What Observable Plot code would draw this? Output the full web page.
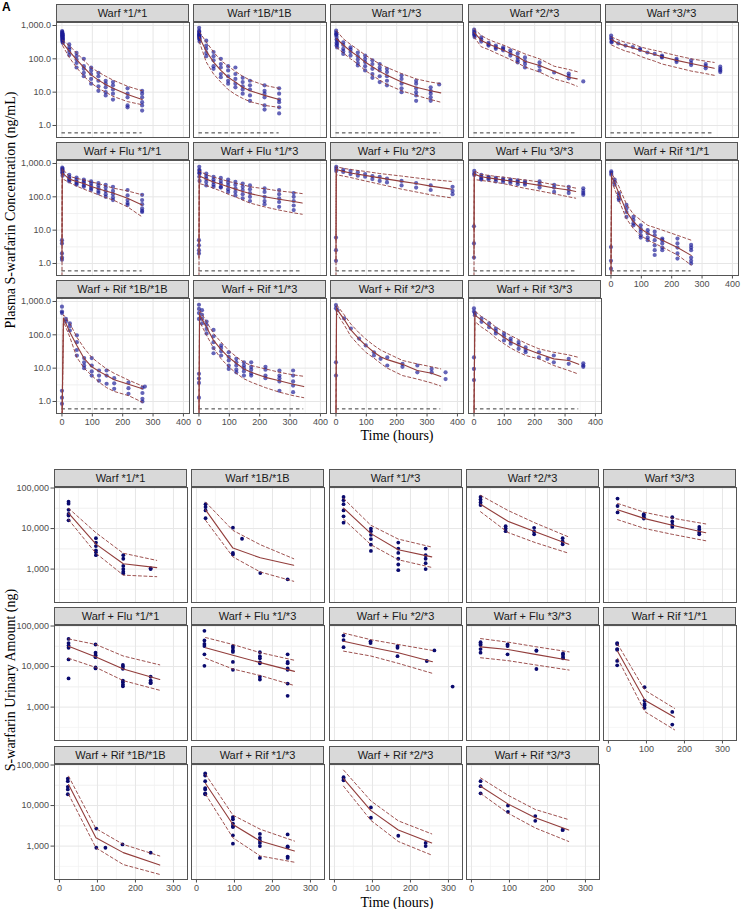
<!DOCTYPE html>
<html><head><meta charset="utf-8">
<script src="https://cdn.jsdelivr.net/npm/d3@7"></script>
<script src="https://cdn.jsdelivr.net/npm/@observablehq/plot@0.6"></script>
<style>
body{margin:0;background:#fff;}
#root{position:relative;width:744px;height:909px;overflow:hidden;background:#fff;font-family:"Liberation Sans",Arial,sans-serif;}
.strip{position:absolute;box-sizing:border-box;border:1px solid #555;background:#d9d9d9;color:#1a1a1a;font-size:11px;font-weight:400;text-align:center;line-height:16px;white-space:nowrap;}
.ttl{position:absolute;font-family:"Liberation Serif","Times New Roman",serif;font-size:14px;color:#000;white-space:nowrap;}
.fw{position:absolute;overflow:visible;}
</style></head><body><div id="root"></div>
<script>
// ---------------- DATA ----------------
const facets = ["Warf *1/*1","Warf *1B/*1B","Warf *1/*3","Warf *2/*3","Warf *3/*3",
  "Warf + Flu *1/*1","Warf + Flu *1/*3","Warf + Flu *2/*3","Warf + Flu *3/*3","Warf + Rif *1/*1",
  "Warf + Rif *1B/*1B","Warf + Rif *1/*3","Warf + Rif *2/*3","Warf + Rif *3/*3"];

// Panel A: plasma predictions, rows [time, p5, median, p95]
const plasmaPred = {
"Warf *1/*1":[[2,250,300,360],[24,110,170,250],[48,55,95,150],[72,30,55,90],[96,19,33,55],[120,13,23,40],[144,10,17,30],[168,7.5,13,23],[216,5.2,8.5,15],[264,4.2,6,11]],
"Warf *1B/*1B":[[1,330,450,650],[24,80,170,320],[48,35,80,160],[72,20,45,90],[96,12,28,60],[120,8.5,20,42],[144,6.5,14,30],[168,5.2,11,23],[216,4,8,16],[264,3.5,6,13]],
"Warf *1/*3":[[2,220,400,700],[24,150,260,400],[48,100,170,270],[72,70,120,190],[96,45,80,130],[120,32,58,95],[144,23,42,70],[168,17,32,55],[216,11,20,36],[264,8,14,25],[312,6,11,20],[345,5,9.5,18]],
"Warf *2/*3":[[0.5,450,620,800],[24,230,355,500],[48,190,280,380],[72,150,225,310],[96,120,185,260],[120,95,145,210],[144,75,115,175],[168,57,85,140],[216,40,63,100],[264,25,42,60],[312,19,28,48],[340,15,25,41]],
"Warf *3/*3":[[2,260,380,450],[24,210,290,370],[48,170,245,310],[72,150,215,280],[96,120,180,230],[120,100,155,200],[144,85,135,180],[168,70,115,160],[216,55,90,125],[264,43,72,100],[312,36,59,85],[340,32,52,78]],
"Warf + Flu *1/*1":[[0,0.2,1.2,4],[1,350,520,700],[24,270,340,410],[48,210,290,360],[72,170,250,320],[96,140,205,280],[120,115,175,250],[144,95,150,215],[168,81,130,183],[216,50,90,150],[264,25,57,115]],
"Warf + Flu *1/*3":[[0,0.2,1.5,4],[1,250,420,600],[24,220,340,460],[48,180,280,390],[72,150,240,340],[96,120,200,290],[120,100,170,260],[144,80,145,230],[168,65,125,200],[216,50,100,175],[264,40,85,150],[312,33,72,135],[340,30,65,125]],
"Warf + Flu *2/*3":[[0,0.2,1.2,5],[1,460,660,800],[24,420,580,720],[48,380,520,660],[96,300,440,580],[144,240,370,500],[216,170,290,420],[264,140,250,370],[312,115,210,330],[380,93,170,290]],
"Warf + Flu *3/*3":[[0,0.2,1.5,10],[1,330,480,600],[24,310,400,470],[48,290,370,440],[72,270,345,410],[96,250,320,390],[120,225,300,365],[144,200,280,340],[168,180,260,320],[216,150,220,280],[264,123,183,230],[312,100,160,200],[335,91,145,183]],
"Warf + Rif *1/*1":[[0,0.1,0.5,1],[2,300,410,520],[26,80,130,205],[51,22,36,60],[74,11,18,30],[98,7,11,20],[121,5,8,14],[144,4,6.3,12],[169,3.1,5,10],[219,1.8,3,7],[264,0.9,1.75,5]],
"Warf + Rif *1B/*1B":[[0,0.1,0.2,0.4],[5,250,320,400],[26,85,120,220],[49,21,48,85],[73,10,19.5,40],[98,6,11,21],[122,3.8,8,14],[147,2.6,6,9.5],[172,2,4.5,7],[219,1.5,3.3,4.4],[265,0.95,2.4,2.9]],
"Warf + Rif *1/*3":[[0,0.1,0.3,0.6],[2,250,390,550],[25,97,170,245],[48,40,68,110],[73,19,36,60],[98,11,21,34],[123,7,14,22],[148,4.8,9.5,15],[172,3.8,7.5,12],[219,2.6,5.3,9.5],[265,1.9,4.2,7.5],[310,1.5,3.3,6.3],[345,1.3,2.8,5.7]],
"Warf + Rif *2/*3":[[0,0.1,0.3,0.6],[2,450,600,800],[27,200,290,400],[49,90,140,210],[76,48,75,115],[98,30,48,75],[125,20,30,48],[147,14,22,35],[169,10,18,28],[219,6,13,17],[268,4.7,8.5,13.4],[315,3.6,7,11],[345,2.9,5.6,9.5]],
"Warf + Rif *3/*3":[[0,0.1,0.3,0.6],[3,250,390,520],[25,170,275,350],[50,120,180,250],[72,80,125,170],[99,54,85,122],[121,40,62,95],[147,30,48,72],[170,24,38,56],[214,19,27,38],[263,12,19,30],[312,8.5,17,25],[345,6.6,13,21]]
};

// Panel A: observed plasma concentrations, rows [time, values...]
const plasmaObs = {
"Warf *1/*1":[[0.5,680,600,520,450],[1,640,560,480,400,350],[2,580,500,430,380,320],[3,520,450,400,350,300],[24,270,220,190,160,130],[48,150,120,95,75,55],[72,100,60,50,38,30],[96,55,45,35,25,18],[120,38,30,22,15,11],[144,22,18,14,10,8],[168,20,16,12,9,6],[216,13,9,7,4,3.5],[264,11,9,7,5,4,2.8]],
"Warf *1B/*1B":[[0.5,850,700,600,520,450],[1,650,550,480,400],[2,500,430,380,330],[24,350,250,200,150,120],[48,160,120,90,60,50],[72,100,70,55,35,28],[96,60,45,30,22,18],[120,55,35,25,18,14],[144,27,20,15,12,9],[168,22,16,12,8,5.5],[216,16,11,9,7,4,3],[264,13,9,6,5,3.5,2.3]],
"Warf *1/*3":[[0.5,700,600,520],[2,550,450,380,300,250],[4,350,280,220],[24,310,260,200,170,140],[48,220,190,160,125],[72,155,120,95,75,63],[96,125,100,80,60,45],[120,90,70,50,35,27],[144,70,55,45,30,20],[168,50,40,30,22,16],[216,32,25,18,13,10],[264,22,18,13,10,8,5.5],[312,14,11,9,7,5.5],[340,17]],
"Warf *2/*3":[[0.5,750,650,550],[2,600,500,450],[24,440,380,330],[48,300,270,250],[72,250,220,200],[96,220,200,180],[120,180,150,125],[144,145,110,90,78],[168,110,85,70,55],[216,78,60,45],[264,39],[312,36,31,26],[360,21]],
"Warf *3/*3":[[0.5,500,420],[2,380,330,310],[24,290],[48,250],[72,225],[96,200,185],[120,155],[144,140],[168,125,115,110],[216,100,90,80],[264,90,75,65],[312,70,60,52],[360,58,50,45,40]],
"Warf + Flu *1/*1":[[0,5,4,2,1.5,1.3],[1,750,650,550],[2,700,600,500,430],[24,460,400,350,320,290],[48,380,330,280,250,230],[72,330,290,260,220,200],[96,290,250,210,180,160],[120,260,220,180,150,130],[144,230,190,150,120,100],[168,200,150,120,95,80],[216,160,110,80,65,57],[264,115,80,60,45,38,35]],
"Warf + Flu *1/*3":[[0,5,3.5,2.5,2],[1,800,650,520,400],[2,600,500,300],[24,500,420,350,280,220],[48,400,330,280,230,200],[72,370,300,250,200,190],[96,330,270,220,170,140],[120,280,230,180,140,110],[144,250,200,160,120,90],[168,220,170,130,100,75],[216,180,140,100,75,60],[264,160,120,90,70,50],[312,130,100,75,55,40]],
"Warf + Flu *2/*3":[[0,6,2.5,1.2],[1,800,700,600],[24,650,560],[48,600,480],[72,550,430],[96,480,400],[120,420,340],[144,400,300],[168,350,270],[216,300,220],[264,260,190],[312,220,160],[384,200,150,120]],
"Warf + Flu *3/*3":[[0,13,4,1.5],[1,600,500,450],[24,460,400,350,330],[48,400,370,330],[72,370,340,290],[96,350,320,280],[120,330,300,260],[144,310,280,240],[168,290,260,230],[216,290,240,190],[264,230,190,140],[312,200,160,130],[360,180,150,130,115]],
"Warf + Rif *1/*1":[[0,3.1,1.2,0.7],[1,580,520,460],[12,330,280,230],[26,130,110,90,80],[51,57,45,35,25],[74,25,20,16,14],[98,14,11,9,7,6],[121,10,8,6,5],[144,9,7,5,3.5,2.5,1.8],[169,5.6,5,4,3,2.5],[219,5.6,4,3,2,1.4],[264,3.6,3,2.5,1.5,1.2,1.0]],
"Warf + Rif *1B/*1B":[[0,700,500,450,2.1,1.3,0.85],[13,300,250],[26,220,180,135],[49,97,60,35,24],[73,20,15,12,10],[98,20,12,8,6],[122,8.5,6,4.2],[147,8.5,6,3.4],[172,5,3.5,2.4],[219,3.7,2.5,1.7],[265,2.6,1.8,1.2,1.0],[273,2.8]],
"Warf + Rif *1/*3":[[0,800,600,450,300,6.8,4.9,3.6,1.3],[10,550,400,300,220],[25,250,200,150,110],[48,140,90,60,40,28],[73,48,40,32,24],[98,30,22,17,12,9.5],[123,19,15,12,9,7.5],[148,15,12,10,8,6],[172,15,11,9,7,6],[219,11,9,6,5],[265,8.5,6,5,4,2.1],[310,8.5,6,4,3,1.9]],
"Warf + Rif *2/*3":[[0,780,630,15,6],[5,550],[27,310],[49,155],[76,77],[98,48],[125,30,24],[147,19],[169,21,12],[219,13.5,11],[268,12,7.5],[315,9.5,7.5],[361,7.5,4.7]],
"Warf + Rif *3/*3":[[0,620,500,21,9.5,4.4],[3,450,390],[25,310,245],[50,220,170],[72,155,130,110],[99,110,90,68],[121,77,65,54],[147,61,50,38],[170,42,35,30],[214,30,21],[242,19],[263,24,15],[312,19,13.5],[360,14,12,11]]
};
const lloq = 0.6;

// Panel B: urinary amount predictions, rows [time, p5, median, p95]
const urinePred = {
"Warf *1/*1":[[24,16600,24000,31600],[96,2460,4130,7900],[168,710,1360,2460],[256,650,1090,1640]],
"Warf *1B/*1B":[[24,16000,29000,45000],[96,2000,3300,9000],[168,850,1900,4000],[256,500,1250,1800]],
"Warf *1/*3":[[24,17000,32000,55000],[96,4000,7500,12000],[168,1700,3000,5500],[256,1100,2000,3500]],
"Warf *2/*3":[[24,26000,39600,66000],[96,8000,15100,28000],[168,4500,8300,13700],[256,2460,4100,6200]],
"Warf *3/*3":[[24,16600,29000,41700],[96,10000,17600,25000],[168,7200,12100,18100],[256,5000,7900,13000]],
"Warf + Flu *1/*1":[[24,16000,31800,48000],[96,9500,17200,35000],[168,4500,8700,18200],[264,2600,4800,11000]],
"Warf + Flu *1/*3":[[24,16000,29000,52000],[96,8700,19000,35000],[168,6000,12500,22000],[258,3400,7600,14300]],
"Warf + Flu *2/*3":[[24,24000,42000,67000],[96,18200,30000,46000],[168,12000,22000,35000],[258,6800,13200,25000]],
"Warf + Flu *3/*3":[[24,16500,30600,49000],[96,14000,26400,40000],[168,11000,20000,31000],[257,8200,14300,23000]],
"Warf + Rif *1/*1":[[24,16000,24000,36000],[96,770,1480,2600],[174,275,560,930]],
"Warf + Rif *1B/*1B":[[24,19000,33000,53000],[96,910,1600,2700],[168,350,690,1100],[264,200,340,570]],
"Warf + Rif *1/*3":[[24,19000,35000,59000],[96,1600,3400,5800],[168,570,1330,2600],[258,400,760,1330]],
"Warf + Rif *2/*3":[[24,30000,46000,75000],[96,4300,7500,13000],[168,1300,2500,4200],[256,600,1200,2000]],
"Warf + Rif *3/*3":[[24,20000,30000,48000],[96,6500,11000,18000],[168,2800,5000,8000],[256,1300,2500,4500]]
};

// Panel B: observed urinary amounts, rows [time, values...]
const urineObs = {
"Warf *1/*1":[[24,46000,41000,29000,23000,21000,16000],[96,5800,4500,3700,2900,2600,2200],[168,2200,1800,1200,1000,860,780],[240,1050,1000]],
"Warf *1B/*1B":[[24,40000,34000,28000,18000],[96,10500,2500,2300],[120,5600],[168,800],[240,560]],
"Warf *1/*3":[[24,60000,50000,40000,28000,20000,14000],[96,10000,8600,7000,5500,4000,2800],[168,4500,3200,2500,1800,1300,940],[240,3200,2200,1800,1400,1000]],
"Warf *2/*3":[[24,60000,52000,44000,38000],[90,11400,10000,8600],[165,10400,8500,7200],[240,5800,4800,4100]],
"Warf *3/*3":[[24,55000,36000,25000],[93,22600,21000,19000,17600],[168,19000,15000,12500,11000],[239,11000,9500,8000,7200]],
"Warf + Flu *1/*1":[[24,48000,38000,33000,29000,15000,5100],[95,35000,22000,19000,17000,9500,9000],[167,11000,10000,8800,4500,4100,3600,3250],[240,5600,4500,4100,3900]],
"Warf + Flu *1/*3":[[21,76000,44000,36000,32000,20000,10400],[96,32000,29000,25000,23000,13000,8300],[167,22700,18000,16000,12700,12000,5600,4800],[240,20000,13000,12000,9000,8300,3800,1900]],
"Warf + Flu *2/*3":[[24,58000,45000,30000],[95,42000,38000],[166,32000,29000,18000],[243,13700],[263,25000],[311,3200]],
"Warf + Flu *3/*3":[[24,40000,36000,34000,27000,22000],[95,35000,32000,20000],[171,25000,24500,8700],[241,21000,19500,17200,16000]],
"Warf + Rif *1/*1":[[23,38000,36000,27000,26000,13800,10700],[95,3100,1450,1200,1100,960],[168,760,370]],
"Warf + Rif *1B/*1B":[[22,46000,40000,29000,25000,19000],[97,2700,910],[121,910],[166,1100],[240,690]],
"Warf + Rif *1/*3":[[23,62000,55000,40000,27000,25000,20000,19000],[96,5200,4600,3600,3100,2950,1840,1150],[167,2000,1600,1380,1200,1000,510],[240,1940,990,940,550,510]],
"Warf + Rif *2/*3":[[24,50000,45000,42000],[96,9000,5000],[168,1800],[240,1200,1000]],
"Warf + Rif *3/*3":[[24,40000,30000,20000],[96,10000,7000],[168,5500,4200],[240,2500,2500]]
};

// axes
const xTicksA = [0,100,200,300,400], xMinorA = [50,150,250,350];
const yTicksA = [1,10,100,1000];
const xTicksB = [0,100,200,300], xMinorB = [50,150,250];
const yTicksB = [1000,10000,100000];

// ---------------- DRAW ----------------
const root = document.getElementById("root");
const geo = v => v.flatMap(t => [t * Math.sqrt(10), t / Math.sqrt(10)]);

const panels = [
  {obs: plasmaObs, pred: plasmaPred, lloq, cols: [56,193,330,468,605], rows: [4,142,280], stripH: 18, plotH: 115,
   xDomain: [-18,420], xTicks: xTicksA, xMinor: xMinorA, yDomain: [0.436,1230], yTicks: yTicksA,
   yFormat: d3.format(",.1f"), dot: {r: 2.1, fill: "#1a1a96", fillOpacity: 0.68}},
  {obs: urineObs, pred: urinePred, lloq: null, cols: [54,191,329,466,603], rows: [469,607,746], stripH: 18, plotH: 115,
   xDomain: [-13,337], xTicks: xTicksB, xMinor: xMinorB, yDomain: [150,103000], yTicks: yTicksB,
   yFormat: d3.format(","), dot: {r: 1.9, fill: "#0a0a6e", fillOpacity: 1}}
];

const W = 133, lineColor = "#923d3b";

for (const P of panels) {
  facets.forEach((name, i) => {
    const col = i % 5, row = Math.floor(i / 5);
    const left = P.cols[col], top = P.rows[row];
    const showY = col === 0, showX = i + 5 >= facets.length;
    const ml = showY ? 50 : 0, mb = showX ? 22 : 0;
    const strip = document.createElement("div");
    strip.className = "strip";
    Object.assign(strip.style, {left: left + "px", top: top + "px", width: W + "px", height: P.stripH + "px"});
    strip.textContent = name;
    root.appendChild(strip);

    const pts = P.obs[name].flatMap(([t, ...vs]) => vs.map(v => ({t, v})));
    const pr = P.pred[name].map(([t, lo, med, hi]) => ({t, lo, med, hi}));
    const tmax = d3.max(pr, d => d.t);
    const yMinor = geo(P.yTicks).filter(v => v > P.yDomain[0] && v < P.yDomain[1]);

    const marks = [
      Plot.ruleX(P.xMinor, {stroke: "#f0f0f0", strokeWidth: 0.6}),
      Plot.ruleY(yMinor, {stroke: "#f0f0f0", strokeWidth: 0.6}),
      Plot.ruleX(P.xTicks, {stroke: "#e6e6e6", strokeWidth: 1}),
      Plot.ruleY(P.yTicks, {stroke: "#e6e6e6", strokeWidth: 1}),
    ];
    if (P.lloq != null) marks.push(Plot.ruleY([{y: P.lloq, x1: 0, x2: tmax}], {y: "y", x1: "x1", x2: "x2", stroke: "#222", strokeWidth: 0.9, strokeDasharray: "3.5,3"}));
    marks.push(
      Plot.dot(pts, {x: "t", y: "v", r: P.dot.r, fill: P.dot.fill, fillOpacity: P.dot.fillOpacity, stroke: "none", clip: true}),
      Plot.line(pr, {x: "t", y: "lo", stroke: lineColor, strokeWidth: 0.9, strokeDasharray: "3,2.5", clip: true}),
      Plot.line(pr, {x: "t", y: "hi", stroke: lineColor, strokeWidth: 0.9, strokeDasharray: "3,2.5", clip: true}),
      Plot.line(pr, {x: "t", y: "med", stroke: lineColor, strokeWidth: 1.1, clip: true}),
      Plot.frame({stroke: "#555", strokeWidth: 1})
    );

    const svg = Plot.plot({
      width: ml + W, height: P.plotH + mb,
      marginLeft: ml, marginRight: 0, marginTop: 0, marginBottom: mb,
      style: {background: "transparent", fontSize: "9px", fontFamily: "Liberation Sans, Arial, sans-serif", color: "#4d4d4d", overflow: "visible"},
      x: {domain: P.xDomain, ticks: P.xTicks, tickSize: 3.5, tickPadding: 1.5, label: null, axis: showX ? "bottom" : null},
      y: {type: "log", domain: P.yDomain, ticks: P.yTicks, tickFormat: P.yFormat, tickSize: 3.5, tickPadding: 2, label: null, axis: showY ? "left" : null},
      marks
    });
    svg.style.background = "transparent";
    svg.style.overflow = "visible";
    svg.style.maxWidth = "none";
    const wrap = document.createElement("div");
    wrap.className = "fw";
    Object.assign(wrap.style, {left: (left - ml) + "px", top: (top + P.stripH) + "px"});
    wrap.appendChild(svg);
    root.appendChild(wrap);
  });
}

function title(text, x, y, rotate) {
  const el = document.createElement("div");
  el.className = "ttl";
  el.textContent = text;
  el.style.left = x + "px";
  el.style.top = y + "px";
  el.style.transform = "translate(-50%,-50%)" + (rotate ? " rotate(-90deg)" : "");
  root.appendChild(el);
}
title("Plasma S-warfarin Concentration (ng/mL)", 11, 210, true);
title("Time (hours)", 397, 436, false);
title("S-warfarin Urinary Amount (ng)", 11, 680, true);
title("Time (hours)", 397, 903, false);
const lab = document.createElement("div");
lab.textContent = "A";
Object.assign(lab.style, {position: "absolute", left: "2px", top: "1px", font: "bold 12px/13px 'Liberation Sans', Arial, sans-serif", color: "#000"});
root.appendChild(lab);
</script>
</body></html>
